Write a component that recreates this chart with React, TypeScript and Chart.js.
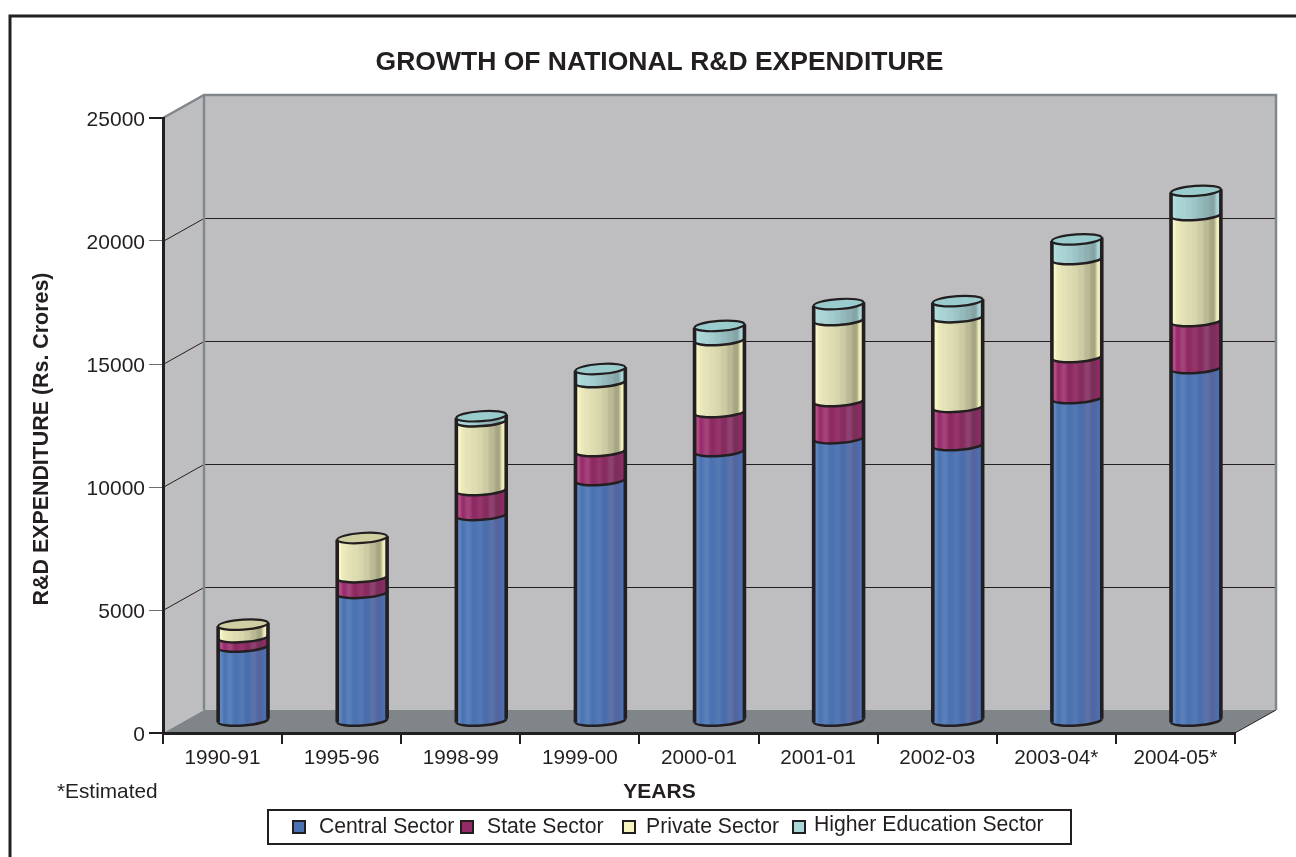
import React, { useEffect, useRef } from "react";
import { Chart, registerables } from "chart.js";

Chart.register(...registerables);

const titleText = "GROWTH OF NATIONAL R&D EXPENDITURE";
const xAxisTitle = "YEARS";
const yAxisTitle = "R&D EXPENDITURE (Rs. Crores)";
const footnote = "*Estimated";
const categories = ["1990-91", "1995-96", "1998-99", "1999-00", "2000-01", "2001-01", "2002-03", "2003-04*", "2004-05*"];
const central = [3050, 5230, 8400, 9820, 11000, 11520, 11240, 13150, 14370];
const state = [380, 640, 1010, 1180, 1580, 1510, 1550, 1670, 1910];
const privateSector = [510, 1590, 2800, 2800, 2930, 3290, 3650, 3980, 4310];
const higherEducation = [0, 0, 200, 530, 570, 650, 650, 800, 980];
const seriesNames = ["Central Sector", "State Sector", "Private Sector", "Higher Education Sector"];
const yMax = 25000;
const yStep = 5000;

const FONT = '"Liberation Sans", Arial, sans-serif';
const INK = "#231f20";
const DEPTH = { x: 41, y: -23 };
const RX = 25;
const RY = 5;
const TILT = (-4 * Math.PI) / 180;
const STRIPES = [0, 0.05, 0.07, 0.12, 0.15, 0.22, 0.26, 0.33, 0.38, 0.46, 0.5, 0.56, 0.62, 0.68, 0.74, 0.8, 0.86, 0.92, 1];
const PALETTES = [
  { swatch: "#4a72b0", cap: "#4a72b0", ramp: ["#4a6fb2", "#5f86bd", "#4c74b2", "#5a80ba", "#4b72b1", "#5478b4", "#4a6dac", "#5a72a8", "#54659f"] },
  { swatch: "#932a66", cap: "#932a66", ramp: ["#8e2a66", "#b44d85", "#982d6c", "#a4437a", "#8e2a62", "#96346c", "#862c5e", "#8e4070", "#7a2f58"] },
  { swatch: "#f6f4bf", cap: "#d0cfa2", ramp: ["#f0eebb", "#f8f6c8", "#ebe9ba", "#e4e2b6", "#dedcb1", "#d8d6ad", "#cdcba4", "#bcba95", "#a6a584"] },
  { swatch: "#a9d6d6", cap: "#9accce", ramp: ["#a8d4d5", "#b4dcdc", "#aad6d6", "#a8d2d3", "#a2cccd", "#9cc4c6", "#94babc", "#8eb0b2", "#86a4a6"] },
];
const LEGEND_X = [
  { box: 293, text: 319, y: 827 },
  { box: 461, text: 487, y: 827 },
  { box: 623, text: 646, y: 827 },
  { box: 793, text: 814, y: 825 },
];

function fillFor(datasetIndex: number) {
  return (c: any) => {
    const chart = c.chart;
    const x = chart.scales.x;
    if (!x || !chart.chartArea || c.dataIndex === undefined) return PALETTES[datasetIndex].swatch;
    const center = x.getPixelForValue(c.dataIndex);
    const g = chart.ctx.createLinearGradient(center - RX, 0, center + RX, 0);
    const ramp = PALETTES[datasetIndex].ramp;
    STRIPES.forEach((s, i) => {
      g.addColorStop(s, ramp[(i % 2 === 0 ? i / 2 : (i - 1) / 2 + 1) % ramp.length]);
    });
    return g;
  };
}

const depthPlugin = {
  id: "depth",
  beforeDraw(chart: any) {
    const { ctx, chartArea: a, scales } = chart;
    const dx = DEPTH.x;
    const dy = DEPTH.y;
    const y = scales.y;
    ctx.save();
    ctx.fillStyle = "#bebec0";
    ctx.fillRect(a.left + dx, a.top + dy, a.right - a.left, a.bottom - a.top);
    ctx.beginPath();
    ctx.moveTo(a.left, a.top);
    ctx.lineTo(a.left + dx, a.top + dy);
    ctx.lineTo(a.left + dx, a.bottom + dy);
    ctx.lineTo(a.left, a.bottom);
    ctx.closePath();
    ctx.fill();
    ctx.fillStyle = "#7f8588";
    ctx.beginPath();
    ctx.moveTo(a.left, a.bottom);
    ctx.lineTo(a.left + dx, a.bottom + dy);
    ctx.lineTo(a.right + dx, a.bottom + dy);
    ctx.lineTo(a.right, a.bottom);
    ctx.closePath();
    ctx.fill();
    ctx.strokeStyle = INK;
    ctx.lineWidth = 1;
    for (let v = yStep; v < yMax; v += yStep) {
      const py = Math.round(y.getPixelForValue(v)) + 0.5;
      ctx.beginPath();
      ctx.moveTo(a.left, py);
      ctx.lineTo(a.left + dx, py + dy);
      ctx.lineTo(a.right + dx, py + dy);
      ctx.stroke();
    }
    ctx.beginPath();
    ctx.moveTo(a.right, a.bottom);
    ctx.lineTo(a.right + dx, a.bottom + dy);
    ctx.stroke();
    ctx.strokeStyle = "#80878d";
    ctx.lineWidth = 2.5;
    ctx.beginPath();
    ctx.moveTo(a.left, a.top);
    ctx.lineTo(a.left + dx, a.top + dy);
    ctx.lineTo(a.right + dx, a.top + dy);
    ctx.lineTo(a.right + dx, a.bottom + dy);
    ctx.moveTo(a.left + dx, a.top + dy);
    ctx.lineTo(a.left + dx, a.bottom + dy);
    ctx.stroke();
    ctx.strokeStyle = INK;
    ctx.lineWidth = 3;
    ctx.beginPath();
    ctx.moveTo(1296, 16);
    ctx.lineTo(10, 16);
    ctx.lineTo(10, 857);
    ctx.stroke();
    ctx.restore();
  },
  beforeDatasetsDraw(chart: any) {
    chart.ctx.save();
    chart.ctx.translate(DEPTH.x / 2, DEPTH.y / 2);
  },
  afterDatasetsDraw(chart: any) {
    const { ctx, data } = chart;
    const offX = RX * Math.cos(TILT);
    const offY = RX * Math.sin(TILT);
    ctx.strokeStyle = INK;
    data.datasets.forEach((ds: any, di: number) => {
      const meta = chart.getDatasetMeta(di);
      meta.data.forEach((el: any, i: number) => {
        if (!ds.data[i]) return;
        // Fill the lower half of the segment's rim, and a little above it, so the tilt leaves no wedge.
        ctx.beginPath();
        ctx.ellipse(el.x, el.base, RX, RY, TILT, 0, Math.PI);
        ctx.lineTo(el.x - offX, el.base - 4);
        ctx.lineTo(el.x + offX, el.base - 4);
        ctx.closePath();
        ctx.fillStyle = el.options.backgroundColor;
        ctx.fill();
        ctx.beginPath();
        ctx.ellipse(el.x, el.base, RX, RY, TILT, 0, Math.PI);
        ctx.lineWidth = 2.5;
        ctx.stroke();
      });
    });
    categories.forEach((_, i) => {
      let top = -1;
      data.datasets.forEach((ds: any, di: number) => {
        if (ds.data[i]) top = di;
      });
      const el = chart.getDatasetMeta(top).data[i];
      const base = chart.getDatasetMeta(0).data[i].base;
      ctx.lineWidth = 3.6;
      ctx.beginPath();
      ctx.moveTo(el.x - offX, el.y - offY);
      ctx.lineTo(el.x - offX, base - offY);
      ctx.moveTo(el.x + offX, el.y + offY);
      ctx.lineTo(el.x + offX, base + offY);
      ctx.stroke();
      ctx.beginPath();
      ctx.ellipse(el.x, el.y, RX, RY, TILT, 0, Math.PI * 2);
      ctx.fillStyle = PALETTES[top].cap;
      ctx.fill();
      ctx.lineWidth = 2.2;
      ctx.stroke();
    });
    ctx.restore();
  },
  afterDraw(chart: any) {
    const { ctx } = chart;
    ctx.save();
    ctx.fillStyle = INK;
    ctx.textBaseline = "middle";
    ctx.textAlign = "center";
    ctx.font = `bold 26.5px ${FONT}`;
    ctx.fillText(titleText, 659.5, 62.5);
    ctx.font = `bold 21px ${FONT}`;
    ctx.fillText(xAxisTitle, 659.5, 792);
    ctx.save();
    ctx.translate(42, 439);
    ctx.rotate(-Math.PI / 2);
    ctx.font = `bold 21.4px ${FONT}`;
    ctx.fillText(yAxisTitle, 0, 0);
    ctx.restore();
    ctx.textAlign = "left";
    ctx.font = `20.8px ${FONT}`;
    ctx.fillText(footnote, 57, 792);
    ctx.fillStyle = "#ffffff";
    ctx.fillRect(268, 810, 803, 34);
    ctx.strokeStyle = INK;
    ctx.lineWidth = 2;
    ctx.strokeRect(268, 810, 803, 34);
    ctx.font = `21.2px ${FONT}`;
    seriesNames.forEach((name, i) => {
      const l = LEGEND_X[i];
      ctx.fillStyle = PALETTES[i].swatch;
      ctx.fillRect(l.box, 821, 12, 12);
      ctx.lineWidth = 2;
      ctx.strokeStyle = INK;
      ctx.strokeRect(l.box, 821, 12, 12);
      ctx.fillStyle = INK;
      ctx.fillText(name, l.text, l.y);
    });
    ctx.restore();
  },
};

export default function App() {
  const ref = useRef<HTMLCanvasElement>(null);
  useEffect(() => {
    const chart = new Chart(ref.current as HTMLCanvasElement, {
      type: "bar",
      data: {
        labels: categories,
        datasets: [central, state, privateSector, higherEducation].map((values, i) => ({
          label: seriesNames[i],
          data: values,
          stack: "total",
          backgroundColor: fillFor(i),
          borderWidth: 0,
          barThickness: RX * 2,
          clip: false as any,
        })),
      },
      options: {
        animation: false,
        responsive: false,
        devicePixelRatio: 1,
        layout: { padding: { top: 118, right: 61, bottom: 0, left: 0 } },
        plugins: { legend: { display: false }, title: { display: false }, tooltip: { enabled: false } },
        scales: {
          x: {
            stacked: true,
            afterFit: (s: any) => {
              s.height = 124;
            },
            border: { color: INK, width: 3 },
            grid: { drawOnChartArea: false, drawTicks: true, tickLength: 11, color: INK, lineWidth: 2 },
            ticks: { color: INK, font: { family: FONT, size: 20.7 }, padding: 2, maxRotation: 0, autoSkip: false },
          },
          y: {
            stacked: true,
            min: 0,
            max: yMax,
            afterFit: (s: any) => {
              s.width = 163;
            },
            border: { color: INK, width: 3 },
            grid: {
              drawOnChartArea: false,
              drawTicks: true,
              tickLength: 14,
              tickColor: (c: any) => (c.tick.value === 0 || c.tick.value === yMax ? INK : "#6d6e71"),
              lineWidth: (c: any) => (c.tick.value === 0 || c.tick.value === yMax ? 2 : 1),
            },
            ticks: {
              stepSize: yStep,
              color: INK,
              font: { family: FONT, size: 21 },
              padding: 4,
              labelOffset: 2,
              callback: (v: any) => String(v),
            },
          },
        },
      },
      plugins: [depthPlugin],
    } as any);
    return () => chart.destroy();
  }, []);
  return (
    <canvas
      ref={ref}
      width={1296}
      height={857}
      style={{ position: "absolute", left: 0, top: 0, display: "block" }}
    />
  );
}
